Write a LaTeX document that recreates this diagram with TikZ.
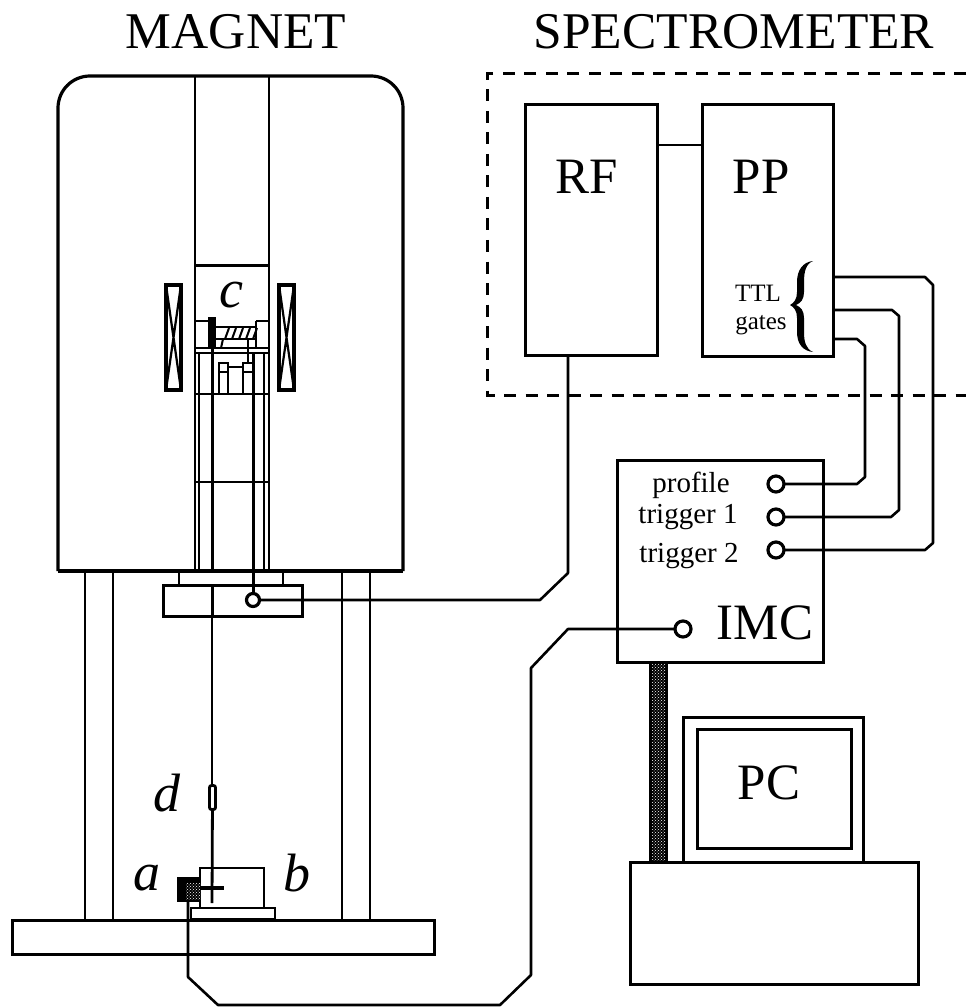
\documentclass[tikz,border=0pt]{standalone}
\usepackage{fontspec}
\setmainfont{Liberation Serif}
\usetikzlibrary{patterns}
\tikzset{
  ln/.style={line width=2.8pt,line join=miter},
  wire/.style={line width=2.6pt,line join=round},
  boxn/.style={draw,line width=3pt,inner sep=0pt,outer sep=0pt,fill=none},
  port/.style={draw,circle,line width=3.2pt,minimum size=16pt,inner sep=0pt,outer sep=0pt},
  big/.style={font=\fontsize{51}{51}\selectfont,inner sep=0pt},
  title/.style={font=\fontsize{51.5}{51.5}\selectfont,inner sep=0pt},
  ital/.style={font=\fontsize{54}{54}\selectfont\itshape,inner sep=0pt},
  mid/.style={font=\fontsize{29}{29}\selectfont,inner sep=0pt},
  small/.style={font=\fontsize{25}{25}\selectfont,inner sep=0pt},
}
\begin{document}
\begin{tikzpicture}[x=1pt,y=-1pt]
\useasboundingbox (0,0) rectangle (966,1008);
% titles
\node[title] (tm) at (236,32) {MAGNET};
\node[title] (ts) at (734,32) {SPECTROMETER};
% magnet body
\draw[ln,line width=3.2pt,rounded corners=32pt] (58,571) -- (58,76) -- (403,76) -- (403,571);
\draw[ln,line width=3.6pt] (58,571) -- (403,571);
\draw[ln] (195,76) -- (195,571) (269,76) -- (269,571);
\draw[ln,line width=3pt] (195,265) -- (269,265);
% coils
\foreach \xa/\xb in {166/181,279/294}{
  \draw[ln,line width=3.2pt] (\xa,285) rectangle (\xb,390);
  \draw[line width=2.2pt] (\xa,285) -- (\xb,390) (\xb,285) -- (\xa,390);
}
% sample holder top
\draw[ln] (195,321) -- (208,321) (256,321) -- (269,321) -- (269,348) (256,321) -- (256,348);
\fill (208,317) rectangle (216,348);
\draw[ln] (216,327) -- (256,327) (216,339) -- (256,339);
\foreach \i in {0,1,2,3,4}{
  \draw[line width=2pt] ({225+\i*7},339) -- ({229+\i*7},328);
}
\draw[line width=2pt] (223,339) -- (221,348);
\draw[ln] (195,348) -- (269,348);
\draw[ln] (195,353) -- (269,353);
\draw[ln] (248,339) -- (248,363);
% inner tube
\draw[line width=2.4pt] (199,353) -- (199,571) (264,353) -- (264,571);
\draw[ln] (212.5,348) -- (212.5,571);
\draw[ln] (253.5,353) -- (253.5,594);
\draw[ln] (195,394) -- (269,394);
\draw[ln] (195,482) -- (269,482);
% pillars
\draw[line width=2.4pt] (219,394) -- (219,363) -- (228,363) -- (228,394)
  (219,372) -- (228,372) (228,367) -- (243,367)
  (243,394) -- (243,363) -- (253,363) (243,372) -- (253,372);
% flange
\draw[ln] (179,571) -- (179,585) (283,571) -- (283,585);
\node[boxn,minimum width=139pt,minimum height=31pt] (flange) at (232.5,600.5) {};
\draw[ln] (212.5,585) -- (212.5,616);
\node[port,minimum size=13pt] (pf) at (253,600) {};
% legs
\draw[ln] (85,571) -- (85,920) (113,571) -- (113,920) (342,571) -- (342,920) (370,571) -- (370,920);
% base
\node[boxn,minimum width=422pt,minimum height=34pt] (base) at (223,937) {};
\node[boxn,minimum width=84pt,minimum height=11pt,line width=2.4pt] (plate) at (233,913.5) {};
\node[boxn,minimum width=64pt,minimum height=40pt,line width=2.4pt] (sbox) at (232,888) {};
% sample square
\fill (177,877) rectangle (200,902);
\fill[pattern=crosshatch dots,pattern color=white] (186,883) rectangle (201,899);
% thread and d
\draw[ln] (212,616) -- (212,785);
\node[draw,line width=2.8pt,rounded corners=2pt,minimum width=6pt,minimum height=24pt,inner sep=0pt,outer sep=0pt] (cap) at (212.5,797.5) {};
\draw[ln] (cap) -- (212,903);
\draw[line width=3.8pt] (200,888) -- (224,888);
% labels
\node[ital] (lc) at (231,295) {c};
\node[ital] (ld) at (167,793) {d};
\node[ital] (la) at (147,878) {a};
\node[ital] (lb) at (297,873) {b};
% spectrometer dashed box
\draw[line width=3pt,dash pattern=on 12pt off 9.5pt] (966,74) -- (487,74) -- (487,395) -- (966,395);
% RF, PP
\node[boxn,minimum width=132pt,minimum height=250pt] (rf) at (591,230) {};
\node[boxn,minimum width=131pt,minimum height=251pt] (pp) at (767.5,230.5) {};
\draw[wire] (rf.east |- 0,145) -- (pp.west |- 0,145);
\node[big] (trf) at (587,177) {RF};
\node[big] (tpp) at (761,177) {PP};
\node[small] (ttl) at (758,293) {TTL};
\node[small] (gat) at (761,325) {gates};
% brace
\fill (813,261) .. controls (803,262) and (797,270) .. (797,282)
  -- (797,292) .. controls (797,299) and (794,303) .. (790,305)
  .. controls (794,307) and (797,311) .. (797,318)
  -- (797,332) .. controls (797,344) and (803,351) .. (813,352)
  .. controls (806,349) and (804,342) .. (804,332)
  -- (804,318) .. controls (804,311) and (801,307) .. (796,305)
  .. controls (801,303) and (804,299) .. (804,292)
  -- (804,282) .. controls (804,271) and (806,264) .. (813,261) -- cycle;
% IMC
\node[boxn,minimum width=206pt,minimum height=202pt] (imc) at (720,561) {};
\node[big] (timc) at (765,623) {IMC};
\node[mid] (tp) at (691,485) {profile};
\node[mid] (t1) at (688,517) {trigger 1};
\node[mid] (t2) at (689,556) {trigger 2};
\node[port] (p1) at (776,484) {};
\node[port] (p2) at (776,517) {};
\node[port] (p3) at (776,550) {};
\node[port] (p4) at (683,629) {};
% wires
\draw[wire] (pp.east |- 0,277) -- (925,277) -- (933,285) -- (933,543) -- (925,550) -- (p3.east);
\draw[wire] (pp.east |- 0,310) -- (892,310) -- (899,316) -- (899,510) -- (891,517) -- (p2.east);
\draw[wire] (pp.east |- 0,339) -- (857,339) -- (865,346) -- (865,477) -- (857,484) -- (p1.east);
\draw[wire] (rf.south -| 568,0) -- (568,573) -- (540,600) -- (pf.east);
\draw[wire] (p4.west) -- (568,629) -- (531,668) -- (531,975) -- (500,1005) -- (218,1005) -- (188,977) -- (188,902);
% PC
\node[boxn,minimum width=288pt,minimum height=122pt] (pcb) at (774,923) {};
\node[boxn,minimum width=180pt,minimum height=145pt] (mon) at (773,789.5) {};
\node[boxn,minimum width=154pt,minimum height=119pt] (scr) at (774,788.5) {};
\node[big] (tpc) at (769,783) {PC};
% thick cable
\fill (649,662) rectangle (668,862);
\fill[pattern=crosshatch dots,pattern color=white] (652,664) rectangle (665,860);
\end{tikzpicture}
\end{document}
